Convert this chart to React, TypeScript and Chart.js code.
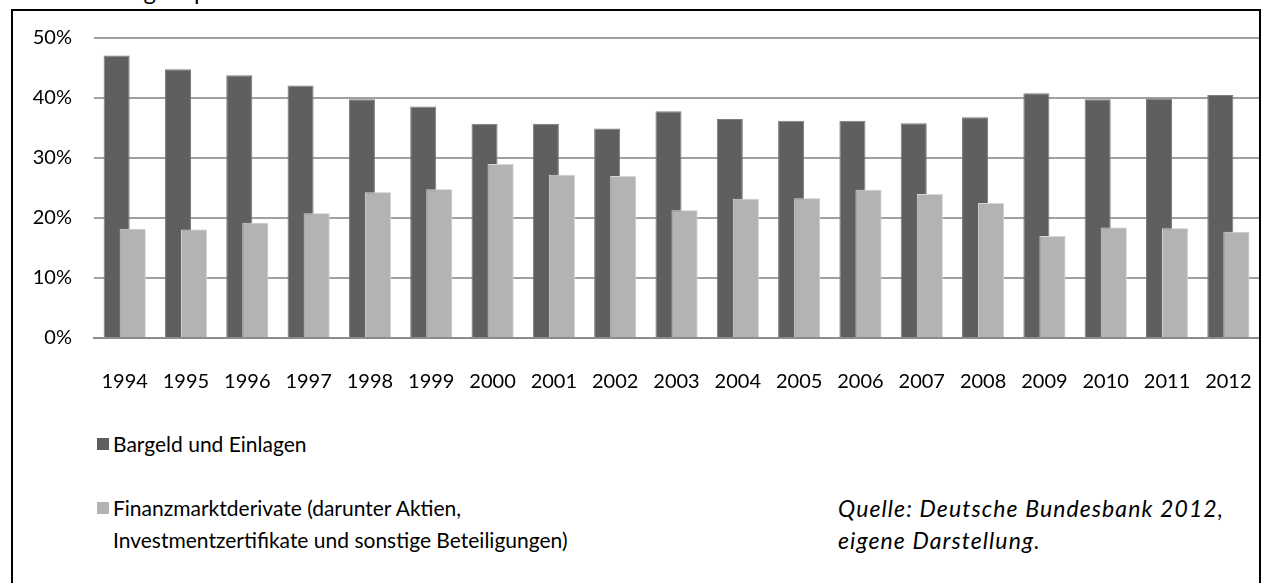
import React, { useEffect, useRef } from 'react';
import { Chart, registerables } from 'chart.js';

Chart.register(...registerables);

const years = ['1994', '1995', '1996', '1997', '1998', '1999', '2000', '2001', '2002', '2003', '2004', '2005', '2006', '2007', '2008', '2009', '2010', '2011', '2012'];
const bargeld = [47.1, 44.8, 43.8, 42.1, 39.8, 38.6, 35.7, 35.7, 34.9, 37.8, 36.5, 36.2, 36.2, 35.8, 36.8, 40.8, 39.8, 39.9, 40.5];
const finanz = [18.2, 18.1, 19.2, 20.8, 24.3, 24.8, 29.0, 27.2, 27.0, 21.3, 23.2, 23.3, 24.7, 24.0, 22.5, 17.0, 18.4, 18.3, 17.7];
const yMax = 50;
const yStep = 10;
const seriesNames = ['Bargeld und Einlagen', 'Finanzmarktderivate (darunter Aktien,\nInvestmentzertifikate und sonstige Beteiligungen)'];
const sourceText = 'Quelle: Deutsche Bundesbank 2012,\neigene Darstellung.';
const titleText = 'Geldvermögen privater Haushalte in Deutschland';

const DARK = '#5f5f5f';
const LIGHT = '#b3b3b3';
const FONT = 'Lato, "Noto Sans", sans-serif';

// draw the second (light) series over the first, as in the original
const lightOnTop = {
  id: 'lightOnTop',
  afterDatasetsDraw(chart: any) {
    const meta = chart.getDatasetMeta(1);
    if (meta && !meta.hidden) meta.controller.draw();
  },
};

export default function App() {
  const ref = useRef<HTMLCanvasElement | null>(null);

  useEffect(() => {
    if (!ref.current) return;
    const chart = new Chart(ref.current, {
      type: 'bar',
      data: {
        labels: years,
        datasets: [
          { label: seriesNames[0], data: bargeld, backgroundColor: DARK, borderColor: '#7a7a7a', borderWidth: 1, categoryPercentage: 0.523, barPercentage: 1.625 },
          { label: seriesNames[1], data: finanz, backgroundColor: LIGHT, borderColor: '#d6d6d6', borderWidth: 1, categoryPercentage: 0.523, barPercentage: 1.625 },
        ],
      },
      plugins: [lightOnTop],
      options: {
        responsive: false,
        animation: false,
        layout: { padding: { top: 26, left: 0, right: 0, bottom: 0 } },
        plugins: { legend: { display: false }, tooltip: { enabled: false }, title: { display: false } },
        scales: {
          x: {
            grid: { display: false, drawTicks: false },
            border: { display: true, color: '#8c8c8c', width: 2 },
            ticks: { color: '#000', font: { family: FONT, size: 20 }, padding: 32, maxRotation: 0, autoSkip: false },
            afterFit: (s: any) => { s.height = 66; s.paddingLeft = 0; s.paddingRight = 0; },
          },
          y: {
            min: 0,
            max: yMax,
            ticks: { stepSize: yStep, color: '#000', font: { family: FONT, size: 20 }, padding: 22, callback: (v: any) => v + '%' },
            grid: { color: '#a0a0a0', lineWidth: 2, drawTicks: false },
            border: { display: false },
            afterFit: (s: any) => { s.width = 80; s.paddingTop = 0; s.paddingBottom = 0; },
          },
        },
      },
    });
    return () => chart.destroy();
  }, []);

  const textStyle: React.CSSProperties = { fontFamily: FONT, fontSize: 21, color: '#000', lineHeight: '32px', whiteSpace: 'pre' };

  return (
    <div style={{ position: 'absolute', left: 0, top: 0, width: 1263, height: 583, overflow: 'hidden', background: '#fff' }}>
      <div style={{ ...textStyle, fontSize: 24, position: 'absolute', left: 14, top: -25, letterSpacing: 1.5 }}>{titleText}</div>
      <div style={{ position: 'absolute', left: 11, top: 9, width: 1250, height: 620, border: '2px solid #000', boxSizing: 'border-box' }} />
      <canvas ref={ref} width={1245} height={392} style={{ position: 'absolute', left: 14, top: 12, width: 1245, height: 392 }} />
      <div style={{ position: 'absolute', left: 97, top: 428 }}>
        <div style={{ display: 'flex', alignItems: 'flex-start' }}>
          <span style={{ width: 12, height: 12, background: DARK, marginTop: 10, marginRight: 4, flex: 'none' }} />
          <span style={textStyle}>{seriesNames[0]}</span>
        </div>
        <div style={{ display: 'flex', alignItems: 'flex-start', marginTop: 32 }}>
          <span style={{ width: 12, height: 12, background: LIGHT, marginTop: 10, marginRight: 4, flex: 'none' }} />
          <span style={textStyle}>{seriesNames[1]}</span>
        </div>
      </div>
      <div style={{ ...textStyle, fontSize: 23, position: 'absolute', left: 838, top: 492, fontStyle: 'italic', letterSpacing: 1.1 }}>{sourceText}</div>
    </div>
  );
}
